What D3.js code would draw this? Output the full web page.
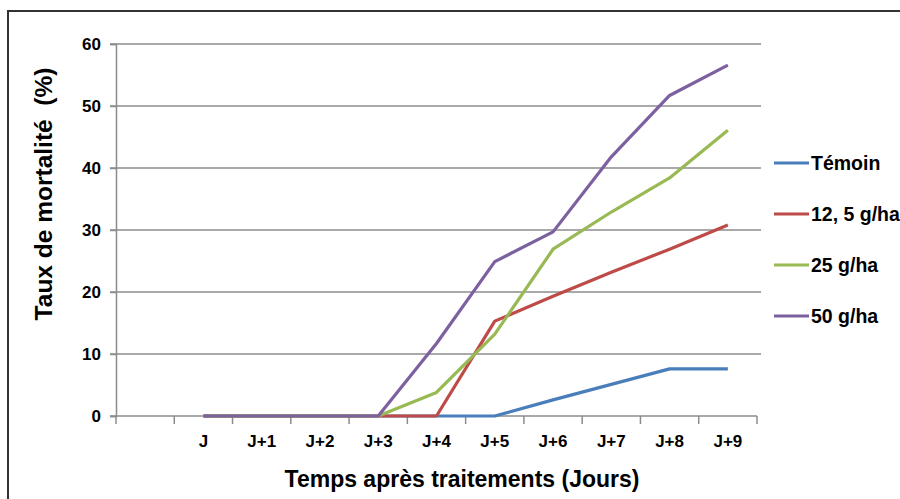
<!DOCTYPE html>
<html>
<head>
<meta charset="utf-8">
<script src="https://cdn.jsdelivr.net/npm/d3@7"></script>
<style>
  body { margin: 0; background: #fff; }
  text { font-family: "Liberation Sans", Arial, sans-serif; font-weight: bold; fill: #000; }
</style>
</head>
<body>
<svg width="900" height="499"></svg>
<script>
const days = ['', 'J', 'J+1', 'J+2', 'J+3', 'J+4', 'J+5', 'J+6', 'J+7', 'J+8', 'J+9'];
const yTicks = [0, 10, 20, 30, 40, 50, 60];

const seriesNames = ['Témoin', '12, 5 g/ha', '25 g/ha', '50 g/ha'];
const seriesColors = ['#4A7EBB', '#BE4B48', '#98B954', '#7D60A0'];

// values from J to J+9
const temoin = [0, 0, 0, 0, 0, 0, 2.6, 5.1, 7.6, 7.6];
const dose12 = [0, 0, 0, 0, 0, 15.3, 19.3, 23.2, 26.9, 30.8];
const dose25 = [0, 0, 0, 0, 3.8, 13.2, 26.9, 32.9, 38.4, 46.1];
const dose50 = [0, 0, 0, 0, 11.7, 24.9, 29.7, 41.8, 51.7, 56.6];

const allSeries = [temoin, dose12, dose25, dose50];

const svg = d3.select('svg');

// outer frame
svg.append('path')
    .attr('d', 'M8 499 L8 11 L900 11')
    .attr('fill', 'none')
    .attr('stroke', '#333')
    .attr('stroke-width', 2);

const plotLeft = 116, plotRight = 757, plotTop = 44, plotBottom = 416;

const x = d3.scaleBand().domain(days).range([plotLeft, plotRight]);
const y = d3.scaleLinear().domain([0, 60]).range([plotBottom, plotTop]);

// gridlines
svg.append('g')
    .selectAll('line')
    .data(yTicks.slice(1))
    .enter()
    .append('line')
    .attr('x1', plotLeft - 6)
    .attr('x2', plotRight + 4)
    .attr('y1', d => y(d))
    .attr('y2', d => y(d))
    .attr('stroke', '#8c8c8c')
    .attr('stroke-width', 1.5);

// y axis
const yAxis = svg.append('g')
    .attr('transform', 'translate(' + plotLeft + ',0)')
    .call(d3.axisLeft(y).tickValues(yTicks).tickSize(6).tickPadding(9));
yAxis.select('.domain').attr('stroke', '#8c8c8c').attr('stroke-width', 1.5);
yAxis.selectAll('.tick line').attr('stroke', '#8c8c8c').attr('stroke-width', 1.5);
yAxis.selectAll('.tick text').style('font-size', '17px').attr('dy', '0.35em');

// x axis, ticks on band boundaries
const xAxis = svg.append('g')
    .attr('transform', 'translate(0,' + plotBottom + ')');
xAxis.append('line')
    .attr('x1', plotLeft - 6).attr('x2', plotRight)
    .attr('stroke', '#8c8c8c').attr('stroke-width', 1.5);
const edges = days.map(d => x(d)).concat([plotRight]);
xAxis.selectAll('.tk')
    .data(edges)
    .enter()
    .append('line')
    .attr('x1', d => d).attr('x2', d => d)
    .attr('y1', 0).attr('y2', 8)
    .attr('stroke', '#8c8c8c').attr('stroke-width', 1.5);
xAxis.selectAll('.lbl')
    .data(days)
    .enter()
    .append('text')
    .attr('x', d => x(d) + x.bandwidth() / 2)
    .attr('y', 31)
    .attr('text-anchor', 'middle')
    .style('font-size', '17px')
    .text(d => d);

// lines
const line = d3.line()
    .x((d, i) => x(days[i + 1]) + x.bandwidth() / 2)
    .y(d => y(d));

svg.append('g')
    .selectAll('path')
    .data(allSeries)
    .enter()
    .append('path')
    .attr('d', d => line(d))
    .attr('fill', 'none')
    .attr('stroke', (d, i) => seriesColors[i])
    .attr('stroke-width', 3.2)
    .attr('stroke-linejoin', 'round');

// axis titles
svg.append('text')
    .attr('x', 462)
    .attr('y', 487)
    .attr('text-anchor', 'middle')
    .style('font-size', '23px')
    .text('Temps après traitements (Jours)');

svg.append('text')
    .attr('transform', 'translate(52,194) rotate(-90)')
    .attr('text-anchor', 'middle')
    .style('font-size', '24.5px')
    .style('white-space', 'pre')
    .text('Taux de mortalité  (%)');

// legend
const legend = svg.append('g');
const rows = legend.selectAll('g')
    .data(seriesNames)
    .enter()
    .append('g')
    .attr('transform', (d, i) => 'translate(774,' + (163 + i * 51) + ')');
rows.append('line')
    .attr('x1', 0).attr('x2', 35)
    .attr('stroke', (d, i) => seriesColors[i])
    .attr('stroke-width', 3.2);
rows.append('text')
    .attr('x', 37)
    .attr('dy', '0.35em')
    .style('font-size', '19.5px')
    .text(d => d);
</script>
</body>
</html>
